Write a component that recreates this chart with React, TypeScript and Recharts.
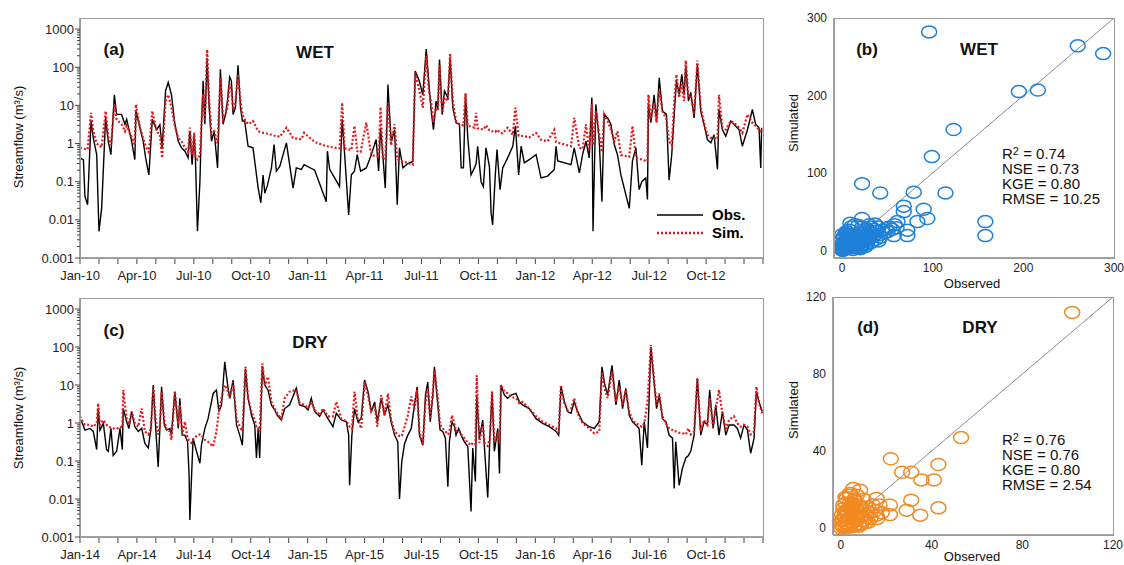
import React from 'react';
import {
  LineChart,
  Line,
  XAxis,
  YAxis,
  ScatterChart,
  Scatter,
  ReferenceLine
} from 'recharts';

// ---- time axis labels (one label every 3 months) ----
const wetLabels = ['Jan-10', 'Apr-10', 'Jul-10', 'Oct-10', 'Jan-11', 'Apr-11', 'Jul-11', 'Oct-11', 'Jan-12', 'Apr-12', 'Jul-12', 'Oct-12'];
const dryLabels = ['Jan-14', 'Apr-14', 'Jul-14', 'Oct-14', 'Jan-15', 'Apr-15', 'Jul-15', 'Oct-15', 'Jan-16', 'Apr-16', 'Jul-16', 'Oct-16'];
const majorLogTicks = [0.001, 0.01, 0.1, 1, 10, 100, 1000];
const minorSteps = [2, 3, 4, 5, 6, 7, 8, 9];

// ---- (a) WET period, x = months since Jan-10 ----
const monthsA = [
  0.00, 0.18, 0.26, 0.40, 0.58, 0.70, 0.88, 1.00, 1.14, 1.35,
  1.49, 1.63, 1.81, 1.93, 2.19, 2.37, 2.46, 2.72, 2.89, 2.95,
  3.16, 3.33, 3.46, 3.63, 3.81, 4.04, 4.21, 4.33, 4.51, 4.65,
  4.82, 5.00, 5.18, 5.35, 5.53, 5.70, 5.79, 5.91, 6.02, 6.09,
  6.19, 6.32, 6.40, 6.49, 6.58, 6.70, 6.81, 6.93, 7.07, 7.25,
  7.40, 7.54, 7.67, 7.77, 7.89, 7.98, 8.07, 8.19, 8.33, 8.46,
  8.56, 8.68, 8.86, 9.12, 9.39, 9.53, 9.65, 9.74, 9.88, 10.09,
  10.23, 10.35, 10.53, 10.88, 11.23, 11.40, 11.67, 11.81, 12.37, 12.98,
  13.04, 13.16, 13.68, 13.82, 13.95, 14.16, 14.30, 14.47, 14.61, 14.79,
  15.09, 15.35, 15.61, 15.74, 15.84, 15.96, 16.09, 16.23, 16.40, 16.58,
  16.72, 16.84, 17.02, 17.28, 17.54, 17.67, 17.89, 18.07, 18.25, 18.39,
  18.51, 18.63, 18.77, 18.86, 18.95, 19.09, 19.21, 19.39, 19.51, 19.65,
  19.82, 20.00, 20.09, 20.21, 20.32, 20.44, 20.61, 20.79, 20.88, 20.96,
  21.14, 21.26, 21.40, 21.58, 21.67, 21.75, 21.89, 21.98, 22.14, 22.28,
  22.54, 22.81, 22.95, 23.12, 23.25, 23.42, 23.68, 24.04, 24.30, 24.65,
  25.00, 25.09, 25.18, 25.88, 26.05, 26.32, 26.49, 26.67, 26.84, 26.98,
  27.04, 27.19, 27.37, 27.51, 27.63, 27.81, 27.98, 28.16, 28.33, 28.51,
  28.95, 29.12, 29.30, 29.47, 29.61, 29.82, 29.91, 29.96, 30.09, 30.26,
  30.39, 30.53, 30.70, 30.91, 31.05, 31.19, 31.32, 31.44, 31.58, 31.72,
  31.84, 31.93, 32.07, 32.19, 32.37, 32.54, 32.72, 32.89, 33.07, 33.25,
  33.42, 33.60, 33.68, 33.86, 34.04, 34.30, 34.47, 34.74, 34.91, 35.18,
  35.44, 35.61, 35.79, 35.88, 35.93
];
const obsA = [
  0.42, 0.37, 0.041, 0.025, 3.9, 1.4, 0.51, 0.005, 0.02, 4.7,
  1.15, 0.51, 19, 5.8, 5.8, 3.2, 4.3, 1.15, 0.38, 7.1,
  2.6, 1.15, 0.42, 0.15, 4.3, 2.3, 3.1, 0.77, 24, 40,
  19, 3.2, 1.15, 0.77, 0.63, 0.42, 2.1, 0.28, 1.7, 0.34,
  0.005, 0.10, 2.6, 44, 3.2, 160, 8.7, 1.15, 2.1, 0.23,
  88, 3.2, 5.8, 13, 55, 44, 5.8, 8.7, 112, 8.7,
  3.9, 3.9, 0.85, 0.77, 0.068, 0.028, 0.15, 0.05, 0.08, 0.23,
  0.94, 0.19, 0.25, 1.04, 0.068, 0.23, 0.21, 0.28, 0.2, 0.03,
  0.63, 0.21, 0.075, 4.3, 0.51, 0.0135, 0.15, 0.19, 0.51, 0.19,
  0.23, 0.5, 1.27, 0.19, 2.6, 0.51, 0.068, 35, 1.15, 2.3,
  0.025, 0.77, 0.23, 0.3, 0.34, 80, 43, 19, 298, 36,
  7.1, 2.3, 13, 7.8, 160, 5.8, 24, 16, 180, 8.7,
  3.5, 3.2, 0.23, 0.23, 19, 1.4, 0.15, 0.23, 0.3, 0.85,
  0.10, 0.075, 0.77, 0.25, 0.015, 0.0074, 0.15, 0.70, 0.062, 0.23,
  0.42, 0.85, 2.9, 0.15, 0.85, 0.31, 0.38, 0.51, 0.125, 0.14,
  0.21, 0.85, 0.35, 0.28, 0.77, 0.17, 0.51, 1.15, 0.42, 16,
  0.005, 10.6, 1.15, 0.03, 5.8, 4.7, 3.2, 0.94, 0.51, 0.15,
  0.02, 0.35, 0.77, 0.062, 0.10, 0.125, 0.034, 10.6, 3.5, 19,
  3.9, 53, 7.1, 5.8, 0.11, 0.51, 5.8, 44, 19, 65,
  19, 108, 13, 22, 4.7, 120, 7.1, 3.2, 1.27, 1.04,
  1.7, 0.21, 7.8, 2.3, 1.56, 3.9, 3.2, 2.3, 0.85, 2.3,
  7.8, 3.2, 2.6, 0.23, 2.6
];
const simA = [
  0.77, 0.74, 0.72, 0.70, 6.4, 2.1, 1.0, 0.9, 0.8, 7.1,
  1.5, 0.9, 10.6, 4.3, 3.2, 2.1, 2.9, 1.5, 0.9, 10.6,
  2.6, 1.4, 0.85, 0.6, 7.1, 2.1, 1.7, 0.42, 13, 19,
  8.7, 2.9, 1.4, 1.15, 0.77, 0.6, 2.6, 0.51, 1.9, 0.42,
  0.38, 0.5, 3.2, 20, 3.9, 290, 13, 1.9, 2.1, 1.0,
  53, 4.3, 5.8, 8.7, 36, 24, 7.8, 11.7, 65, 13,
  5.8, 4.3, 3.2, 3.9, 2.1, 2.0, 1.9, 1.9, 1.8, 1.7,
  1.6, 1.6, 1.5, 2.6, 1.4, 1.35, 1.3, 1.9, 1.1, 0.85,
  0.85, 0.82, 0.75, 11.7, 0.75, 0.7, 0.68, 2.9, 0.63, 0.6,
  3.5, 0.5, 0.46, 0.46, 9, 0.42, 0.4, 11.7, 0.9, 3.2,
  0.4, 0.35, 0.34, 0.31, 0.28, 72, 24, 8.7, 200, 24,
  11.7, 3.5, 8.7, 7.1, 110, 5.8, 16, 13, 220, 13,
  3.9, 3.2, 3.1, 3.0, 21, 2.9, 2.8, 2.6, 6.4, 2.5,
  2.4, 2.3, 3.0, 2.2, 2.1, 2.1, 2.0, 2.3, 1.9, 1.85,
  2.6, 1.7, 8.7, 1.6, 1.6, 1.55, 1.45, 1.9, 1.25, 1.15,
  2.3, 1.1, 1.05, 0.85, 4.7, 0.77, 0.72, 3.2, 0.65, 11,
  0.9, 7.1, 1.7, 0.6, 5.8, 3.9, 2.3, 1.15, 2.1, 0.5,
  0.45, 2.9, 0.42, 0.4, 0.38, 0.35, 0.35, 19, 4.3, 11.7,
  3.5, 24, 7.1, 4.3, 1.15, 0.9, 13, 65, 16, 36,
  13, 150, 16, 19, 5.8, 150, 8.7, 3.5, 1.7, 1.4,
  1.4, 1.3, 19, 2.6, 2.3, 3.9, 3.5, 2.6, 1.9, 5.8,
  3.5, 2.9, 2.3, 2.1, 2.0
];

// ---- (c) DRY period, x = months since Jan-14 ----
const monthsC = [
  0.00, 0.09, 0.26, 0.53, 0.70, 0.88, 0.96, 1.05, 1.23, 1.40,
  1.49, 1.63, 1.75, 1.93, 2.11, 2.23, 2.28, 2.46, 2.58, 2.72,
  2.89, 3.07, 3.25, 3.42, 3.60, 3.74, 3.86, 3.98, 4.12, 4.21,
  4.30, 4.44, 4.56, 4.74, 4.82, 5.00, 5.18, 5.26, 5.39, 5.53,
  5.67, 5.75, 5.79, 5.88, 5.96, 6.14, 6.32, 6.40, 6.58, 6.75,
  7.02, 7.19, 7.32, 7.46, 7.63, 7.77, 7.89, 8.07, 8.25, 8.42,
  8.56, 8.72, 8.86, 9.04, 9.21, 9.30, 9.39, 9.47, 9.61, 9.74,
  9.91, 10.09, 10.26, 10.40, 10.61, 10.79, 11.05, 11.40, 11.58, 11.84,
  12.02, 12.19, 12.37, 12.63, 12.81, 13.07, 13.33, 13.51, 13.77, 14.04,
  14.16, 14.21, 14.33, 14.47, 14.65, 14.82, 15.00, 15.18, 15.35, 15.53,
  15.67, 15.88, 16.05, 16.23, 16.40, 16.58, 16.75, 16.84, 16.96, 17.11,
  17.28, 17.46, 17.63, 17.77, 17.89, 18.07, 18.21, 18.33, 18.46, 18.60,
  18.68, 18.86, 18.98, 19.12, 19.26, 19.39, 19.47, 19.61, 19.74, 19.82,
  19.96, 20.09, 20.26, 20.44, 20.61, 20.70, 20.84, 20.91, 21.05, 21.23,
  21.32, 21.49, 21.61, 21.72, 21.84, 22.02, 22.11, 22.19, 22.37, 22.54,
  22.72, 22.98, 23.16, 23.33, 23.68, 24.04, 24.39, 24.74, 25.09, 25.23,
  25.35, 25.53, 25.70, 25.88, 26.05, 26.23, 26.49, 26.84, 27.11, 27.37,
  27.51, 27.65, 27.81, 28.04, 28.25, 28.42, 28.60, 28.77, 28.95, 29.12,
  29.30, 29.47, 29.61, 29.74, 29.91, 30.09, 30.26, 30.39, 30.53, 30.70,
  30.88, 31.05, 31.23, 31.32, 31.40, 31.58, 31.75, 31.93, 32.07, 32.19,
  32.37, 32.54, 32.72, 32.89, 33.07, 33.19, 33.37, 33.51, 33.68, 33.86,
  34.04, 34.21, 34.47, 34.65, 34.82, 35.00, 35.18, 35.35, 35.53, 35.65,
  35.79, 35.96
];
const obsC = [
  1.3, 1.08, 0.65, 0.72, 0.6, 0.2, 2.4, 0.65, 0.98, 0.2,
  0.18, 0.72, 0.14, 0.18, 0.72, 0.2, 2.4, 1.08, 0.72, 2.0,
  0.8, 0.6, 0.72, 0.29, 0.22, 0.72, 10, 0.89, 0.07, 0.72,
  9, 0.89, 0.65, 0.72, 0.48, 6.7, 0.72, 4.5, 0.48, 0.48,
  0.32, 0.043, 0.0028, 0.039, 0.4, 0.18, 0.087, 0.26, 0.72, 1.3,
  6.0, 7.4, 2.0, 3.0, 41, 11, 4.5, 13.5, 0.89, 0.48,
  0.26, 27, 4.5, 1.6, 0.89, 0.12, 0.72, 0.12, 30, 10,
  7.4, 3.0, 2.2, 1.6, 1.2, 2.4, 3.0, 8.2, 3.0, 2.7,
  2.2, 4.5, 2.0, 1.5, 2.2, 1.3, 0.8, 1.8, 1.2, 1.08,
  0.48, 0.023, 0.48, 2.4, 1.08, 1.3, 13.5, 6.7, 2.0, 3.6,
  1.08, 4.5, 1.6, 3.0, 1.08, 0.48, 0.32, 0.01, 0.096, 0.29,
  0.48, 0.72, 3.0, 9, 0.48, 0.26, 5.4, 12, 1.08, 5.4,
  30, 3.0, 0.65, 0.6, 0.4, 0.021, 0.32, 1.08, 0.8, 0.48,
  0.72, 0.48, 0.32, 0.24, 0.0047, 0.22, 0.029, 5.4, 0.4, 1.2,
  0.22, 0.011, 0.48, 6.7, 0.18, 0.72, 0.047, 10, 5.4, 4.5,
  5.4, 6.0, 3.6, 3.0, 2.4, 1.3, 0.98, 0.8, 0.6, 0.48,
  9, 3.6, 2.0, 1.8, 3.6, 2.0, 1.08, 0.8, 0.72, 1.08,
  30, 11, 5.4, 33, 3.0, 13.5, 2.4, 8.2, 1.6, 1.08,
  0.89, 0.72, 0.078, 1.08, 0.22, 100, 12, 2.4, 5.4, 1.3,
  1.08, 0.48, 0.4, 0.019, 0.32, 0.023, 0.064, 0.12, 0.14, 0.18,
  0.48, 15, 0.48, 1.08, 0.89, 7.4, 0.72, 3.0, 0.48, 2.0,
  0.48, 0.89, 0.89, 0.72, 0.4, 0.89, 0.65, 0.16, 0.4, 6.7,
  3.6, 2.0
];
const simC = [
  1.5, 1.2, 0.9, 0.9, 0.8, 0.98, 3.3, 0.9, 1.2, 0.9,
  0.8, 0.75, 0.72, 0.7, 0.8, 0.75, 7.4, 1.3, 0.9, 2.0,
  0.98, 0.8, 2.4, 0.6, 0.5, 0.7, 9, 1.3, 0.5, 0.8,
  6.7, 1.2, 0.7, 0.6, 0.36, 6.7, 0.9, 3.0, 0.5, 1.08,
  0.4, 0.35, 0.33, 0.3, 0.36, 0.45, 0.5, 0.48, 0.36, 0.32,
  0.24, 0.6, 2.0, 4.5, 10, 7.4, 4.5, 12, 1.3, 0.8,
  0.6, 30, 4.5, 2.0, 1.2, 0.8, 0.8, 0.6, 37, 10,
  16.5, 3.6, 2.4, 1.8, 1.3, 4.5, 6.7, 7.4, 3.3, 3.0,
  2.4, 3.6, 2.2, 1.6, 2.4, 1.5, 1.5, 3.6, 1.3, 1.1,
  0.9, 0.8, 0.7, 6.7, 1.2, 0.72, 12, 5.4, 2.0, 3.0,
  0.8, 5.4, 1.6, 6.0, 1.2, 0.6, 0.5, 0.45, 0.45, 0.8,
  1.6, 5.0, 2.4, 7.4, 0.6, 0.26, 3.6, 8.2, 1.3, 6.7,
  25, 4.5, 0.9, 0.72, 0.6, 0.5, 0.6, 1.6, 0.9, 0.6,
  0.65, 0.5, 0.4, 0.3, 0.26, 0.3, 0.28, 18, 0.3, 0.98,
  0.3, 0.25, 0.4, 6.7, 0.3, 0.5, 0.3, 10, 6.7, 6.0,
  4.9, 4.5, 3.3, 3.6, 2.4, 1.5, 1.08, 0.89, 0.72, 0.6,
  10, 3.3, 2.2, 2.4, 4.5, 1.8, 0.98, 0.72, 0.53, 0.6,
  22, 8.2, 4.5, 22, 3.6, 9, 3.0, 7.4, 2.0, 1.2,
  0.98, 0.9, 0.8, 0.98, 3.6, 113, 13.5, 3.0, 6.0, 1.5,
  0.98, 0.72, 0.65, 0.6, 0.6, 0.55, 0.55, 0.5, 0.72, 0.5,
  0.6, 15, 0.6, 1.2, 0.9, 4.5, 0.8, 2.4, 7.4, 1.8,
  0.72, 1.2, 1.5, 0.98, 0.8, 0.9, 0.8, 0.5, 0.6, 9,
  3.3, 1.8
];

// ---- (b) WET scatter: observed vs simulated ----
const wetObs = [
  96, 260, 288, 195, 216, 123, 99, 22, 42, 79, 114, 68, 68, 90, 94, 83, 22, 158, 158, 61, 72, 72, 57, 9,
  0, 1, 2, 3, 1, 4, 5, 2, 6, 7, 8, 3, 9, 10, 5, 11, 12, 13, 14, 6, 15, 16, 17, 18, 19, 20,
  8, 21, 22, 23, 24, 25, 26, 10, 27, 28, 29, 30, 31, 32, 33, 34, 35, 36, 37, 38, 40, 41, 42,
  44, 46, 48, 50, 52, 55, 58, 60, 14, 18, 22, 30, 36, 26, 20, 12, 32, 40, 4, 1, 0, 2, 5,
  0, 1, 2, 3, 4, 5, 6, 7, 8, 9, 10, 11, 12, 13, 14, 15, 16, 17, 18, 19, 20, 22, 24, 26, 28,
  3, 6, 9, 12, 15, 18, 21, 24, 27, 0, 2, 4, 6, 8
];
const wetSim = [
  282, 264, 254, 205, 207, 156, 121, 86, 74, 75, 74, 57, 50, 53, 41, 37, 41, 37, 19, 37, 26, 19, 19, 35,
  0, 2, 1, 4, 5, 2, 6, 8, 3, 8, 5, 12, 10, 6, 15, 12, 8, 15, 10, 20, 18, 12, 6, 20, 14, 9,
  26, 22, 16, 11, 25, 18, 13, 30, 28, 20, 15, 24, 17, 30, 22, 18, 27, 20, 14, 25, 30, 20, 17,
  26, 22, 28, 24, 30, 27, 33, 29, 33, 32, 30, 33, 34, 5, 2, 1, 10, 12, 10, 9, 14, 18, 24,
  1, 0, 3, 1, 6, 3, 9, 4, 11, 6, 3, 9, 14, 5, 17, 7, 3, 13, 9, 5, 12, 7, 18, 8, 12,
  7, 13, 5, 19, 9, 16, 4, 14, 8, 20, 16, 22, 11, 18
];

// ---- (d) DRY scatter: observed vs simulated ----
const dryObs = [
  102, 53, 22, 27, 31, 43, 35.5, 41, 31, 29, 35, 43, 21.6, 21.6, 15.7, 15.7, 8.4, 5.4, 2.5,
  0, 1, 2, 1, 3, 4, 2, 5, 6, 3, 7, 8, 4, 9, 10, 5, 11, 12, 6, 13, 14, 7, 15,
  3, 6, 9, 12, 16, 18, 17, 0.5, 1, 2, 4, 8, 10, 11, 13, 5, 7,
  0, 0.5, 1, 1.5, 2, 2.5, 3, 3.5, 4, 4.5, 5, 5.5, 6, 6.5, 7, 8, 9, 10, 1, 2, 3, 4, 5, 6, 7, 8, 2, 4, 6, 9
];
const drySim = [
  112, 47, 36, 29, 29, 33, 25, 25, 14.5, 9.3, 6.7, 10.5, 12, 7, 15.4, 6.7, 19.7, 20.5, 15.4,
  0, 1, 3, 4, 2, 5, 6, 3, 7, 9, 4, 8, 11, 6, 10, 13, 7, 11, 15, 8, 12, 17, 9,
  0.5, 1, 2, 3, 5, 8, 12, 7, 10, 13, 17, 12, 15, 3, 5, 8, 10,
  2, 4, 0.5, 6, 1, 8, 2, 5, 0.5, 9, 3, 6, 1.5, 11, 4, 2, 6, 4, 12, 9, 7, 13, 10, 14, 5, 1, 16, 18, 15, 11
];

const monthTicks = Array.from({ length: 37 }, (_, i) => i);
const logTicks = [
  ...majorLogTicks,
  ...majorLogTicks.slice(0, 6).flatMap((d) => minorSteps.map((s) => +(d * s).toPrecision(2)))
].sort((a, b) => a - b);

const AXIS = '#444';
const FONT = '"Liberation Sans", Arial, Helvetica, sans-serif';

const LogTick = ({ x, y, payload }: any) => {
  const v = payload.value;
  const major = majorLogTicks.includes(v);
  return (
    <g>
      <line x1={x - (major ? 5 : 3)} x2={x} y1={y} y2={y} stroke={AXIS} strokeWidth={1} />
      {major && (
        <text x={x - 6} y={y} dy="0.35em" textAnchor="end" fontSize={13} fill="#222" fontFamily={FONT}>
          {String(v)}
        </text>
      )}
    </g>
  );
};

const MonthTick = ({ x, y, payload, labels }: any) => {
  const m = payload.value;
  const label = m % 3 === 0 ? labels[m / 3] : undefined;
  return (
    <g>
      <line x1={x} x2={x} y1={y} y2={y + 6} stroke={AXIS} strokeWidth={1} />
      {label && (
        <text x={x} y={y + 22} textAnchor="middle" fontSize={13} fill="#222" fontFamily={FONT}>
          {label}
        </text>
      )}
    </g>
  );
};

const Txt = ({ x, y, size, bold, children, rotate }: any) => (
  <div
    style={{
      position: 'absolute',
      left: x,
      top: y,
      transform: `translate(-50%, -50%)${rotate ? ' rotate(-90deg)' : ''}`,
      fontSize: size,
      fontWeight: bold ? 'bold' : 'normal',
      whiteSpace: 'nowrap',
      color: '#111',
      lineHeight: 1
    }}
  >
    {children}
  </div>
);

const Box = ({ left, top, width, height }: any) => (
  <div
    style={{
      position: 'absolute',
      left,
      top,
      width,
      height,
      boxSizing: 'border-box',
      border: '1px solid #9a9a9a',
      pointerEvents: 'none'
    }}
  />
);

interface SeriesProps {
  top: number;
  xAxisHeight: number;
  months: number[];
  obs: number[];
  sim: number[];
  labels: string[];
}

const SeriesPanel: React.FC<SeriesProps> = ({ top, xAxisHeight, months, obs, sim, labels }) => {
  const data = months.map((m, i) => ({ m, obs: obs[i], sim: sim[i] }));
  return (
    <div style={{ position: 'absolute', left: 0, top }}>
      <LineChart width={770} height={285} data={data} margin={{ top: 18, right: 7, bottom: 0, left: 0 }}>
        <XAxis
          dataKey="m"
          type="number"
          domain={[0, 36]}
          ticks={monthTicks}
          interval={0}
          allowDataOverflow
          height={xAxisHeight}
          tickSize={0}
          tickMargin={0}
          tickLine={false}
          axisLine={{ stroke: AXIS }}
          tick={(p: any) => <MonthTick {...p} labels={labels} />}
        />
        <YAxis
          type="number"
          scale="log"
          domain={[0.001, 1950]}
          allowDataOverflow
          ticks={logTicks}
          interval={0}
          width={80}
          tickSize={0}
          tickMargin={0}
          tickLine={false}
          axisLine={{ stroke: AXIS }}
          tick={(p: any) => <LogTick {...p} />}
        />
        <Line
          dataKey="obs"
          type="linear"
          stroke="#000"
          strokeWidth={1.4}
          dot={false}
          isAnimationActive={false}
        />
        <Line
          dataKey="sim"
          type="linear"
          stroke="#e3171b"
          strokeWidth={2.2}
          strokeDasharray="2 2"
          dot={false}
          isAnimationActive={false}
        />
      </LineChart>
    </div>
  );
};

interface ScatterProps {
  left: number;
  top: number;
  height: number;
  marginTop: number;
  yWidth: number;
  xAxisHeight: number;
  xDomain: number[];
  yDomain: number[];
  ticks: number[];
  max: number;
  xs: number[];
  ys: number[];
  color: string;
}

const ScatterPanel: React.FC<ScatterProps> = ({
  left, top, height, marginTop, yWidth, xAxisHeight, xDomain, yDomain, ticks, max, xs, ys, color
}) => {
  const points = xs.map((x, i) => ({ x, y: ys[i] }));
  return (
    <div style={{ position: 'absolute', left, top }}>
      <ScatterChart width={344} height={height} margin={{ top: marginTop, right: 344 - yWidth - 280, bottom: 0, left: 0 }}>
        <XAxis
          dataKey="x"
          type="number"
          domain={xDomain}
          allowDataOverflow
          ticks={ticks}
          interval={0}
          height={xAxisHeight}
          tickLine={false}
          tickSize={0}
          tickMargin={5}
          axisLine={{ stroke: AXIS }}
          tick={{ fontSize: 12, fill: '#222', fontFamily: FONT }}
        />
        <YAxis
          dataKey="y"
          type="number"
          domain={yDomain}
          allowDataOverflow
          ticks={ticks}
          interval={0}
          width={yWidth}
          tickLine={false}
          tickSize={0}
          tickMargin={7}
          axisLine={{ stroke: AXIS }}
          tick={{ fontSize: 12, fill: '#222', fontFamily: FONT }}
        />
        <ReferenceLine
          segment={[{ x: 0, y: 0 }, { x: max, y: max }]}
          stroke="#8c8c8c"
          strokeWidth={1}
          ifOverflow="visible"
        />
        <Scatter
          data={points}
          isAnimationActive={false}
          shape={(p: any) => (
            <ellipse cx={p.cx} cy={p.cy} rx={7.5} ry={6} fill="none" stroke={color} strokeWidth={1.5} />
          )}
        />
      </ScatterChart>
    </div>
  );
};

const LegendRow = ({ y, dotted, label }: any) => (
  <>
    <svg style={{ position: 'absolute', left: 655, top: y - 4 }} width={50} height={8}>
      <line
        x1={2}
        x2={48}
        y1={4}
        y2={4}
        stroke={dotted ? '#e3171b' : '#000'}
        strokeWidth={dotted ? 2.4 : 1.6}
        strokeDasharray={dotted ? '2 2' : undefined}
      />
    </svg>
    <div style={{ position: 'absolute', left: 712, top: y - 9, fontSize: 15, fontWeight: 'bold', lineHeight: '18px' }}>
      {label}
    </div>
  </>
);

const Stats = ({ top, r2, nse, kge, rmse }: any) => (
  <div style={{ position: 'absolute', left: 1002, top, fontSize: 15, lineHeight: '15px', color: '#111' }}>
    <div>
      R<sup style={{ fontSize: 11, verticalAlign: 'top', lineHeight: '10px' }}>2</sup> = {r2}
    </div>
    <div>NSE = {nse}</div>
    <div>KGE = {kge}</div>
    <div>RMSE = {rmse}</div>
  </div>
);

export default function App() {
  return (
    <div
      style={{
        position: 'absolute',
        left: 0,
        top: 0,
        width: 1124,
        height: 565,
        background: '#fff',
        fontFamily: FONT,
        overflow: 'hidden'
      }}
    >
      {/* (a) WET time series */}
      <SeriesPanel top={0} xAxisHeight={27} months={monthsA} obs={obsA} sim={simA} labels={wetLabels} />
      <Box left={80} top={18} width={684} height={241} />
      <Txt x={18} y={137} size={13} rotate>Streamflow (m³/s)</Txt>
      <Txt x={114} y={49} size={17} bold>(a)</Txt>
      <Txt x={315} y={52} size={17} bold>WET</Txt>
      <LegendRow y={215} label="Obs." />
      <LegendRow y={233} dotted label="Sim." />

      {/* (c) DRY time series */}
      <SeriesPanel top={280} xAxisHeight={28} months={monthsC} obs={obsC} sim={simC} labels={dryLabels} />
      <Box left={80} top={298} width={684} height={240} />
      <Txt x={18} y={418} size={13} rotate>Streamflow (m³/s)</Txt>
      <Txt x={114} y={330} size={17} bold>(c)</Txt>
      <Txt x={310} y={342} size={17} bold>DRY</Txt>

      {/* (b) WET scatter */}
      <ScatterPanel
        left={780}
        top={0}
        height={290}
        marginTop={18}
        yWidth={54}
        xAxisHeight={32}
        xDomain={[-9, 300]}
        yDomain={[-10, 300]}
        ticks={[0, 100, 200, 300]}
        max={300}
        xs={wetObs}
        ys={wetSim}
        color="#1f80d8"
      />
      <Box left={834} top={18} width={281} height={241} />
      <Txt x={793} y={123} size={13} rotate>Simulated</Txt>
      <Txt x={972} y={283} size={13}>Observed</Txt>
      <Txt x={867} y={49} size={17} bold>(b)</Txt>
      <Txt x={979} y={49} size={17} bold>WET</Txt>
      <Stats top={146} r2="0.74" nse="0.73" kge="0.80" rmse="10.25" />

      {/* (d) DRY scatter */}
      <ScatterPanel
        left={780}
        top={280}
        height={285}
        marginTop={17}
        yWidth={53}
        xAxisHeight={30}
        xDomain={[-3.5, 120]}
        yDomain={[-3.6, 120]}
        ticks={[0, 40, 80, 120]}
        max={120}
        xs={dryObs}
        ys={drySim}
        color="#f28a22"
      />
      <Box left={833} top={297} width={281} height={239} />
      <Txt x={793} y={410} size={13} rotate>Simulated</Txt>
      <Txt x={972} y={556} size={13}>Observed</Txt>
      <Txt x={868} y={327} size={17} bold>(d)</Txt>
      <Txt x={980} y={327} size={17} bold>DRY</Txt>
      <Stats top={432} r2="0.76" nse="0.76" kge="0.80" rmse="2.54" />
    </div>
  );
}
